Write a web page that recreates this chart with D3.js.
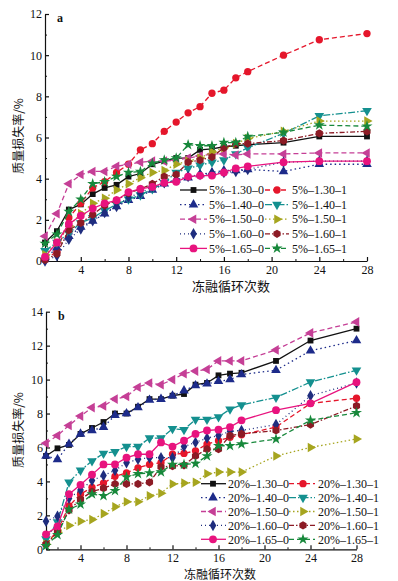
<!DOCTYPE html>
<html>
<head>
<meta charset="utf-8">
<script src="https://cdn.jsdelivr.net/npm/d3@7"></script>
<style>
body { margin: 0; background: #fff; }
svg { display: block; }
</style>
</head>
<body>
<svg width="398" height="581"></svg>
<script>
// freeze-thaw cycles (x) shared by both panels
var cycles = [1,2,3,4,5,6,7,8,9,10,11,12,13,14,15,16,17,18,21,24,28];
var xTicks = [4,8,12,16,20,24,28];
var xMinor = [2,6,10,14,18,22,26];

var labelsA = ["5%–1.30–0","5%–1.30–1","5%–1.40–0","5%–1.40–1","5%–1.50–0",
               "5%–1.50–1","5%–1.60–0","5%–1.60–1","5%–1.65–0","5%–1.65–1"];
var labelsB = ["20%–1.30–0","20%–1.30–1","20%–1.40–0","20%–1.40–1","20%–1.50–0",
               "20%–1.50–1","20%–1.60–0","20%–1.60–1","20%–1.65–0","20%–1.65–1"];

// panel a: mass loss rate (%)
var a130_0 = [0.9,1.45,2.5,2.75,3.25,3.55,3.7,4.1,4.25,4.7,4.85,5.0,5.0,5.4,5.45,5.55,5.6,5.65,5.75,6.05,6.05];
var a130_1 = [0.1,0.45,2.1,2.8,3.55,3.85,4.3,4.7,5.4,5.7,6.3,6.75,7.2,7.5,8.15,8.3,8.9,9.2,10.0,10.75,11.05];
var a140_0 = [0.1,0.65,1.2,1.65,1.95,2.3,2.65,2.95,3.15,3.45,3.75,3.95,4.05,4.2,4.3,4.4,4.4,4.45,4.35,4.7,4.7];
var a140_1 = [0.5,0.9,1.35,1.85,2.1,2.45,2.75,3.0,3.2,3.5,3.8,4.3,4.5,4.65,4.8,4.9,5.2,5.5,6.2,7.05,7.3];
var a150_0 = [1.2,2.3,3.75,4.2,4.35,4.35,4.6,4.7,4.8,4.85,4.85,4.9,5.0,5.1,5.2,5.2,5.15,5.2,5.2,5.25,5.25];
var a150_1 = [0.3,0.9,1.7,2.3,2.8,3.05,3.45,3.75,4.05,4.3,4.4,4.7,4.85,5.0,5.3,5.5,5.7,5.95,6.3,6.8,6.8];
var a160_0 = [0.0,0.25,1.05,1.55,1.95,2.35,2.65,3.1,3.3,3.6,3.8,3.95,4.1,4.2,4.25,4.3,4.35,4.45,4.8,4.85,4.85];
var a160_1 = [0.05,0.35,1.5,1.85,2.25,2.7,2.95,3.3,3.5,3.75,4.1,4.2,4.8,4.9,5.05,5.5,5.7,5.7,5.85,6.2,6.3];
var a165_0 = [0.2,0.9,1.8,2.2,2.55,2.8,2.95,3.35,3.5,3.6,3.8,3.85,4.1,4.15,4.15,4.3,4.5,4.6,4.8,4.85,4.85];
var a165_1 = [0.85,1.3,2.4,3.0,3.75,3.85,4.1,4.3,4.35,4.75,4.9,5.0,5.65,5.6,5.6,5.75,5.75,6.05,6.25,6.6,6.55];

// panel b
var b130_0 = [5.5,5.95,6.15,6.8,7.15,7.5,8.0,8.0,8.4,8.85,8.85,9.05,9.15,9.7,9.8,10.25,10.35,10.4,11.1,12.3,13.0];
var b130_1 = [0.3,1.1,2.55,3.25,3.65,3.9,4.3,4.5,4.8,5.0,5.1,5.6,5.65,5.8,6.2,6.4,6.6,6.75,7.2,8.6,8.9];
var b140_0 = [5.5,5.3,6.2,6.8,7.0,7.2,7.9,8.0,8.35,8.8,8.85,9.05,9.35,9.65,9.75,9.9,10.0,10.3,10.55,11.7,12.3];
var b140_1 = [0.6,1.6,3.95,4.65,5.2,5.65,5.75,6.05,6.05,6.55,6.55,7.1,7.05,7.65,7.65,7.8,8.25,8.5,8.95,9.85,10.55];
var b150_0 = [6.25,6.7,7.3,7.85,8.35,8.45,8.85,9.0,9.55,9.8,9.7,10.0,10.35,10.5,10.6,11.1,11.1,11.1,11.75,12.75,13.4];
var b150_1 = [0.3,1.0,1.4,1.65,1.75,2.1,2.5,2.8,2.8,3.15,3.3,3.85,3.9,3.95,4.45,4.55,4.55,4.55,5.5,6.0,6.5];
var b160_0 = [1.65,1.95,3.0,3.5,4.05,4.35,4.65,5.1,5.3,5.4,5.4,5.4,6.05,6.3,6.55,6.7,6.95,7.0,7.35,9.05,9.8];
var b160_1 = [0.3,1.0,2.3,2.95,3.4,3.6,3.85,3.85,3.85,3.95,4.85,4.9,4.95,5.5,5.9,5.9,6.7,6.8,7.0,7.35,8.45];
var b165_0 = [0.88,1.35,3.25,3.8,4.4,5.0,5.0,5.4,5.6,5.6,6.3,6.05,6.4,6.8,7.0,7.05,7.2,7.6,8.2,8.6,9.85];
var b165_1 = [0.2,0.85,2.35,2.65,3.25,3.15,3.45,4.25,4.45,4.5,4.55,5.0,5.0,5.05,5.5,6.1,6.1,6.2,6.5,7.6,8.05];

var seriesA = [a130_0,a130_1,a140_0,a140_1,a150_0,a150_1,a160_0,a160_1,a165_0,a165_1];
var seriesB = [b130_0,b130_1,b140_0,b140_1,b150_0,b150_1,b160_0,b160_1,b165_0,b165_1];

// hexagon marker for the x.x0-1 dark red series
var hexagon = {
  draw: function(context, size) {
    var r = Math.sqrt(size / 2.6);
    for (var i = 0; i < 6; i++) {
      var a = Math.PI / 3 * i + Math.PI / 6;
      if (i === 0) context.moveTo(r * Math.cos(a), r * Math.sin(a));
      else context.lineTo(r * Math.cos(a), r * Math.sin(a));
    }
    context.closePath();
  }
};

var styles = [
  {color: "#111111", dash: null,          sym: d3.symbolSquare,   rot: 0,   size: 34},
  {color: "#e5162b", dash: "5,3",         sym: d3.symbolCircle,   rot: 0,   size: 42},
  {color: "#1d2b8a", dash: "1.5,3",       sym: d3.symbolTriangle, rot: 0,   size: 40},
  {color: "#14908f", dash: "7,2,1.5,2",   sym: d3.symbolTriangle, rot: 180, size: 40},
  {color: "#c53f96", dash: "5,3",         sym: d3.symbolTriangle, rot: -90, size: 40},
  {color: "#a6a51f", dash: "1.5,2.5",     sym: d3.symbolTriangle, rot: 90,  size: 40},
  {color: "#1f2d7e", dash: "1,3",         sym: d3.symbolDiamond,  rot: 0,   size: 38},
  {color: "#8c1b25", dash: "5,2,1.5,2",   sym: hexagon,           rot: 0,   size: 44},
  {color: "#e8137e", dash: null,          sym: d3.symbolCircle,   rot: 0,   size: 48},
  {color: "#17883b", dash: "5,3",         sym: d3.symbolStar,     rot: 0,   size: 38}
];

var svg = d3.select("svg");
var serif = "'Liberation Serif','DejaVu Serif',serif";
var cjk = "'Noto Sans CJK SC',sans-serif";

function drawPanel(p) {
  var x = d3.scaleLinear().domain([1, 28]).range([p.left, p.right]);
  var y = d3.scaleLinear().domain([0, p.ymax]).range([p.bottom, p.top]);
  var g = svg.append("g");

  // minor ticks
  g.append("g")
    .attr("transform", "translate(0," + p.bottom + ")")
    .call(d3.axisBottom(x).tickValues(xMinor).tickSizeInner(-2).tickSizeOuter(0).tickFormat(""))
    .call(function(s) { s.select(".domain").remove(); });
  g.append("g")
    .attr("transform", "translate(" + p.left + ",0)")
    .call(d3.axisLeft(y).tickValues(d3.range(1, p.ymax, 2)).tickSizeInner(-2).tickSizeOuter(0).tickFormat(""))
    .call(function(s) { s.select(".domain").remove(); });

  var xa = g.append("g")
    .attr("transform", "translate(0," + p.bottom + ")")
    .call(d3.axisBottom(x).tickValues(xTicks).tickSizeInner(-4).tickSizeOuter(0).tickPadding(4));
  var ya = g.append("g")
    .attr("transform", "translate(" + p.left + ",0)")
    .call(d3.axisLeft(y).tickValues(d3.range(0, p.ymax + 1, 2)).tickSizeInner(-4).tickSizeOuter(0).tickPadding(3));
  [xa, ya].forEach(function(a) {
    a.attr("font-family", serif).attr("font-size", 12);
    a.selectAll("text").attr("fill", "#111");
    a.selectAll("line, path").attr("stroke", "#111").attr("stroke-width", 1.2);
  });

  g.selectAll("path, line").filter(function() { return this.getAttribute("stroke") === "currentColor"; })
    .attr("stroke", "#111");

  var line = d3.line()
    .x(function(d, i) { return x(cycles[i]); })
    .y(function(d) { return y(d); });

  p.series.forEach(function(vals, k) {
    var st = styles[k];
    g.append("path")
      .datum(vals)
      .attr("d", line)
      .attr("fill", "none")
      .attr("stroke", st.color)
      .attr("stroke-width", 1.3)
      .attr("stroke-dasharray", st.dash);
    g.selectAll(null)
      .data(vals)
      .enter().append("path")
      .attr("d", d3.symbol().type(st.sym).size(st.size))
      .attr("transform", function(d, i) {
        return "translate(" + x(cycles[i]) + "," + y(d) + ") rotate(" + st.rot + ")";
      })
      .attr("fill", st.color);
  });

  // legend
  p.labels.forEach(function(lab, k) {
    var st = styles[k];
    var col = k % 2, row = Math.floor(k / 2);
    var c = p.legend[col];
    var ly = p.legendY + row * p.legendStep;
    g.append("line")
      .attr("x1", c.x1).attr("x2", c.x2)
      .attr("y1", ly).attr("y2", ly)
      .attr("stroke", st.color)
      .attr("stroke-width", 1.3)
      .attr("stroke-dasharray", st.dash);
    g.append("path")
      .attr("d", d3.symbol().type(st.sym).size(st.size))
      .attr("transform", "translate(" + c.m + "," + ly + ") rotate(" + st.rot + ")")
      .attr("fill", st.color);
    g.append("text")
      .attr("x", c.t).attr("y", ly + 4.2)
      .attr("font-family", serif)
      .attr("font-size", 12)
      .attr("fill", "#111")
      .text(lab);
  });

  g.append("text")
    .attr("x", p.left + 12).attr("y", p.top + 8)
    .attr("font-family", serif).attr("font-weight", "bold").attr("font-size", 12)
    .attr("fill", "#111")
    .text(p.tag);

  g.append("text")
    .attr("x", p.xLabelX).attr("y", p.xLabelY)
    .attr("text-anchor", "middle")
    .attr("font-family", cjk).attr("font-size", p.xLabelSize)
    .attr("fill", "#111")
    .text("冻融循环次数");

  g.append("text")
    .attr("transform", "translate(23," + p.yLabelY + ") rotate(-90)")
    .attr("text-anchor", "middle")
    .attr("font-family", cjk).attr("font-size", 12)
    .attr("fill", "#111")
    .text("质量损失率/%");
}

drawPanel({
  tag: "a", series: seriesA, labels: labelsA, ymax: 12,
  left: 45, right: 367, top: 14, bottom: 261,
  legendY: 190, legendStep: 14.6,
  legend: [{x1: 180, x2: 207, m: 193.5, t: 209}, {x1: 265, x2: 289, m: 277, t: 292}],
  xLabelX: 231, xLabelY: 291, xLabelSize: 13, yLabelY: 136
});

drawPanel({
  tag: "b", series: seriesB, labels: labelsB, ymax: 14,
  left: 46, right: 356.5, top: 311.7, bottom: 549.3,
  legendY: 483.7, legendStep: 13.9,
  legend: [{x1: 201, x2: 226, m: 213, t: 228}, {x1: 289, x2: 315, m: 303, t: 318}],
  xLabelX: 220, xLabelY: 578.5, xLabelSize: 12, yLabelY: 430
});
</script>
</body>
</html>
